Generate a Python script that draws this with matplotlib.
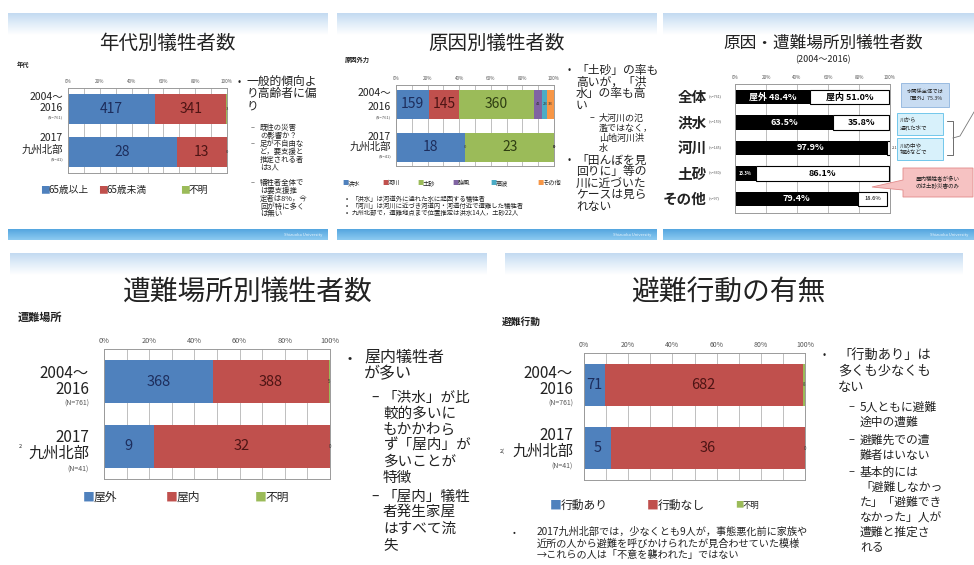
import matplotlib
matplotlib.use('Agg')
import matplotlib.pyplot as plt
from matplotlib.colors import LinearSegmentedColormap
from matplotlib.lines import Line2D
from matplotlib.patches import Polygon, Rectangle
import numpy as np

plt.rcParams['font.family'] = ['Noto Sans CJK JP', 'DejaVu Sans']

W, H = 974, 565

# ---- values ----
row_top = ['2004～', '2017']
row_mid = ['2016', '九州北部']
row_n = ['(N=761)', '(N=41)']

age_cats = ['65歳以上', '65歳未満', '不明']
age_2004_2016 = [417, 341, 3]
age_2017 = [28, 13, 0]

cause_cats = ['洪水', '河川', '土砂', '強風', '高波', 'その他']
cause_2004_2016 = [159, 145, 360, 41, 23, 33]
cause_2017 = [18, 0, 23, 0, 0, 0]

place_rows = ['全体', '洪水', '河川', '土砂', 'その他']
place_n = ['(n=761)', '(n=159)', '(n=145)', '(n=360)', '(n=97)']
outdoor_pct = [48.4, 63.5, 97.9, 13.3, 79.4]
indoor_pct = [51.0, 35.8, 2.1, 86.1, 18.6]

loc_cats = ['屋外', '屋内', '不明']
loc_2004_2016 = [368, 388, 5]
loc_2017 = [9, 32, 0]

act_cats = ['行動あり', '行動なし', '不明']
act_2004_2016 = [71, 682, 8]
act_2017 = [5, 36, 0]

pct_ticks = [0, 20, 40, 60, 80, 100]

SERIES_COLORS = ['#4f81bd', '#c0504d', '#9bbb59', '#8064a2', '#4bacc6', '#f79646']
LABEL_COLORS = ['#1d2d5c', '#4d1414', '#2e3d12', '#222222', '#222222', '#222222']

fig = plt.figure(figsize=(W / 100, H / 100), dpi=100)
fig.patch.set_facecolor('white')

band_cmap = LinearSegmentedColormap.from_list('band', ['#c3daf1', '#e2eef9', '#ffffff'])
foot_cmap = LinearSegmentedColormap.from_list('foot', ['#55a6e0', '#8ccaf0'])


# pixel box (top-left origin) -> figure fraction rect
def fbox(x0, y0, x1, y1):
    return [x0 / W, 1 - y1 / H, (x1 - x0) / W, (y1 - y0) / H]


def put(x, y, s, size, **kw):
    kw.setdefault('va', 'center')
    kw.setdefault('color', '#222222')
    return fig.text(x / W, 1 - y / H, s, fontsize=size, **kw)


def put_lines(x, y, step, texts, size, **kw):
    for k, t in enumerate(texts):
        put(x, y + k * step, t, size, **kw)


def fig_rect(x0, y0, x1, y1, **kw):
    fig.add_artist(Rectangle((x0 / W, 1 - y1 / H), (x1 - x0) / W, (y1 - y0) / H,
                             transform=fig.transFigure, **kw))


def fig_line(xs, ys, **kw):
    fig.add_artist(Line2D([x / W for x in xs], [1 - y / H for y in ys],
                          transform=fig.transFigure, **kw))


# light blue band at the top of each slide, blue strip at the bottom
def slide_frame(x0, y0, x1, y1, footer):
    ax = fig.add_axes(fbox(x0, y0, x1, y0 + 22))
    ax.imshow(np.linspace(0, 1, 64).reshape(-1, 1), aspect='auto', cmap=band_cmap,
              extent=(0, 1, 0, 1))
    ax.axis('off')
    if footer:
        ax = fig.add_axes(fbox(x0, y1 - 11, x1, y1))
        ax.imshow(np.linspace(0, 1, 32).reshape(-1, 1), aspect='auto', cmap=foot_cmap,
                  extent=(0, 1, 0, 1))
        ax.axis('off')
        put(x1 - 6, y1 - 5, 'Shizuoka University', 3, ha='right', color='#e6f3fc')


def style_pct_axis(ax, tick_size, pad):
    ax.set_xlim(0, 100)
    ax.xaxis.tick_top()
    ax.set_xticks(pct_ticks)
    ax.set_xticklabels([f'{t}%' for t in pct_ticks], fontsize=tick_size, color='#555555')
    ax.set_xticks(range(10, 100, 20), minor=True)
    ax.grid(axis='x', which='both', color='#b4b4b4', lw=0.6, zorder=0)
    ax.tick_params(axis='x', which='both', length=0, pad=pad)
    ax.set_yticks([])
    for s in ax.spines.values():
        s.set_color('#9a9a9a')
        s.set_linewidth(0.7)


# 100% stacked bars, one row per period
def stacked_chart(bx, rows, tick_size, val_size, bar_h, ylim, pad=3):
    ax = fig.add_axes(fbox(*bx))
    for i, counts in enumerate(rows):
        total = sum(counts)
        left = 0.0
        for j, v in enumerate(counts):
            w = 100.0 * v / total
            ax.barh(i, w, left=left, height=bar_h, color=SERIES_COLORS[j], zorder=2)
            if w >= 8:
                ax.text(left + w / 2, i, str(v), ha='center', va='center', fontsize=val_size,
                        color=LABEL_COLORS[j], zorder=3)
            else:
                ax.text(left + w / 2, i, str(v), ha='center', va='center',
                        fontsize=val_size * 0.3, color='#333333', zorder=3, clip_on=False)
            left += w
    ax.set_ylim(*ylim)
    style_pct_axis(ax, tick_size, pad)
    return ax


def row_labels(x, ys, big, small):
    for k in range(2):
        put(x, ys[k][0], row_top[k], big, ha='right')
        put(x, ys[k][1], row_mid[k], big, ha='right')
        put(x, ys[k][2], row_n[k], small, ha='right', color='#555555')


def legend_row(y, xs, cats, sizes):
    for x, c, col, s in zip(xs, cats, SERIES_COLORS, sizes):
        put(x, y, '■', s, color=col)
        put(x + s * 1.25, y, c, s)


# ---------------- slide 1: 年代別 ----------------
slide_frame(8, 13, 328, 240, True)
put(167, 43, '年代別犠牲者数', 14, ha='center')
put(17, 65, '年代', 4.5, weight='bold')
stacked_chart((68, 88, 227, 173), [age_2004_2016, age_2017], 3.3, 10, 0.7, (1.5, -0.5))
row_labels(63, [(97, 108, 117), (138, 150, 159)], 7.5, 3)
legend_row(190, [40, 98, 180], age_cats, [7, 7, 7])
put(238, 82, '•', 7)
put_lines(246, 82, 12, ['一般的傾向よ', 'り高齢者に偏', 'り'], 8.5)
for y, texts in [(128, ['既往の災害', 'の影響か？']),
                 (144, ['足が不自由な', 'ど，要支援と', '推定される者', 'は3人']),
                 (183, ['犠牲者全体で', 'は要支援推', '定者は8%，今', '回が特に多く', 'は無い'])]:
    put(251, y, '–', 5.3)
    put_lines(260, y, 7.9, texts, 5.3)

# ---------------- slide 2: 原因別 ----------------
slide_frame(337, 13, 657, 240, True)
put(497, 43, '原因別犠牲者数', 14, ha='center')
put(345, 60, '原因外力', 4.5, weight='bold')
stacked_chart((396, 85, 554, 166), [cause_2004_2016, cause_2017], 3.3, 10, 0.67, (1.43, -0.44))
row_labels(391, [(93, 107, 117), (137, 147, 156)], 7.5, 3)
legend_row(183, [342, 382, 417, 452, 490, 537], cause_cats, [4.5] * 6)
put_lines(346, 199, 7.2, ['•', '•', '•'], 4.5)
put_lines(352, 199, 7.2, ['「洪水」は河道外に溢れた水に起因する犠牲者',
                          '「河川」は河川に近づき河道内・河道付近で遭難した犠牲者',
                          '九州北部で，遭難地点まで位置推定は洪水14人，土砂22人'], 4.6)
put(568, 70, '•', 7)
put_lines(576, 70, 11.7, ['「土砂」の率も', '高いが，「洪', '水」の率も高', 'い'], 8.5)
put(590, 118, '–', 6.5)
put_lines(599, 118, 10, ['大河川の氾', '濫ではなく，', '山地河川洪', '水'], 6.5)
put(568, 160, '•', 7)
put_lines(576, 160, 11.5, ['「田んぼを見', '回りに」等の', '川に近づいた', 'ケースは見ら', 'れない'], 8.5)

# ---------------- slide 3: 原因・遭難場所別 ----------------
slide_frame(663, 13, 974, 240, True)
put(823, 43, '原因・遭難場所別犠牲者数', 12, ha='center')
put(823, 60, '(2004～2016)', 6.5, ha='center')
ax3 = fig.add_axes(fbox(735, 84, 890, 213))
ypos = np.arange(len(place_rows))
ax3.barh(ypos, outdoor_pct, height=0.58, color='black', zorder=2)
ax3.barh(ypos, indoor_pct, left=outdoor_pct, height=0.58, color='white',
         edgecolor='black', lw=0.8, zorder=2)
for i, (o, n) in enumerate(zip(outdoor_pct, indoor_pct)):
    pre_o, pre_n = ('屋外 ', '屋内 ') if i == 0 else ('', '')
    fs_o = 6.5 if o >= 25 else 3
    ax3.text(o / 2, i, f'{pre_o}{o:.1f}%', ha='center', va='center', fontsize=fs_o,
             color='white', weight='bold', zorder=3)
    if n >= 25:
        ax3.text(o + n / 2, i, f'{pre_n}{n:.1f}%', ha='center', va='center', fontsize=6.5,
                 color='black', weight='bold', zorder=3)
    elif n >= 10:
        ax3.text(o + n / 2, i, f'{n:.1f}%', ha='center', va='center', fontsize=4.2,
                 color='black', zorder=3)
    else:
        ax3.text(o + n + 1, i, f'{n:.1f}', ha='left', va='center', fontsize=2.8,
                 color='#333333', zorder=3, clip_on=False)
ax3.set_ylim(4.55, -0.51)
style_pct_axis(ax3, 3.3, 3)
ax3.grid(axis='x', which='minor', visible=False)
for i, (name, nn) in enumerate(zip(place_rows, place_n)):
    yc = 97 + i * 25.5
    put(707, yc, name, 10.5, ha='right', weight='bold')
    put(709, yc - 1, nn, 2.6, ha='left', color='#555555')

fig_rect(901, 83, 949, 107, facecolor='#c8dcf2', edgecolor='#8db3dd', lw=0.6)
put(925, 95, '水関係全体では\n「屋外」75.3%', 3.8, ha='center', linespacing=1.3)
fig_rect(897, 113, 943, 135, facecolor='#d8f1fb', edgecolor='#5fc0e8', lw=0.6)
put(900, 124, '川から\n溢れた水で', 4, ha='left', linespacing=1.3)
fig_rect(897, 138, 943, 160, facecolor='#d8f1fb', edgecolor='#5fc0e8', lw=0.6)
put(900, 149, '川の中や\n堤防などで', 4, ha='left', linespacing=1.3)
fig_line([947, 953, 953, 947], [121, 121, 155, 155], color='#555555', lw=0.6)
fig_line([953, 960, 974], [138, 136, 112], color='#777777', lw=0.6)
fig.add_artist(Polygon([(x / W, 1 - y / H) for x, y in
                        [(903, 168), (973, 168), (973, 197), (903, 197), (903, 190),
                         (872, 187), (903, 180)]],
                       closed=True, transform=fig.transFigure,
                       facecolor='#f6c2c2', edgecolor='#e28a8a', lw=0.6))
put(938, 182, '屋内犠牲者が多い\nのは土砂災害のみ', 4, ha='center', linespacing=1.3)

# ---------------- slide 4: 遭難場所別 ----------------
slide_frame(10, 253, 487, 565, False)
put(248, 292, '遭難場所別犠牲者数', 20, ha='center')
put(18, 317, '遭難場所', 8, weight='bold')
stacked_chart((104, 349, 330, 479), [loc_2004_2016, loc_2017], 5.3, 10.5, 0.66, (1.5, -0.5))
row_labels(89, [(373, 389, 404), (437, 453, 470)], 11, 5)
put(19, 447, '2', 4)
legend_row(497, [83, 166, 255], loc_cats, [8.5, 8.5, 8.5])
put(347, 358, '•', 9)
put_lines(364, 357, 16.5, ['屋内犠牲者', 'が多い'], 11.5)
put(371, 398, '–', 10)
put_lines(383, 398, 16, ['「洪水」が比', '較的多いに', 'もかかわら', 'ず「屋内」が',
                         '多いことが', '特徴'], 10.5)
put(371, 497, '–', 10)
put_lines(383, 497, 16, ['「屋内」犠牲', '者発生家屋', 'はすべて流', '失'], 10.5)

# ---------------- slide 5: 避難行動 ----------------
slide_frame(505, 253, 963, 565, False)
put(728, 293, '避難行動の有無', 20, ha='center')
put(502, 322, '避難行動', 7, weight='bold')
stacked_chart((584, 353, 805, 480), [act_2004_2016, act_2017], 5, 10.5, 0.66, (1.5, -0.5))
row_labels(573, [(373, 389, 404), (435, 451, 467)], 11, 5)
put(500, 451, '2(', 4)
legend_row(505, [550, 647, 735], act_cats, [8.5, 8.5, 6])
put(513, 532, '•', 6)
put_lines(537, 532, 11.5, ['2017九州北部では，少なくとも9人が，事態悪化前に家族や',
                           '近所の人から避難を呼びかけられたが見合わせていた模様',
                           '→これらの人は「不意を襲われた」ではない'], 7.3)
put(823, 355, '•', 7)
put_lines(838, 355, 16, ['「行動あり」は', '多くも少なくも', 'ない'], 9.5)
for y, texts in [(407, ['5人ともに避難', '途中の遭難']),
                 (440, ['避難先での遭', '難者はいない']),
                 (472, ['基本的には', '「避難しなかっ', 'た」「避難でき', 'なかった」人が',
                        '遭難と推定さ', 'れる'])]:
    put(848, y, '–', 8)
    put_lines(860, y, 15, texts, 8.5)

fig.savefig('out.png', dpi=100)
